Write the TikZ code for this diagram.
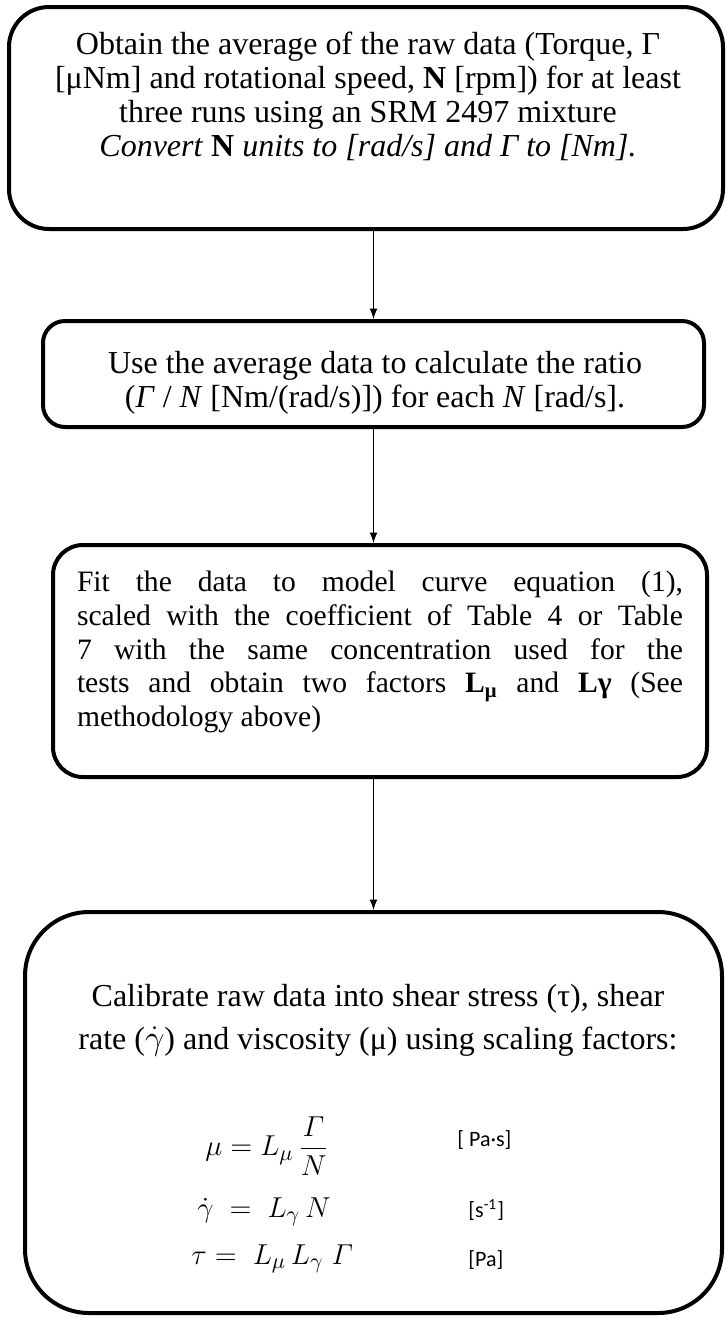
\documentclass[tikz,border=0pt]{standalone}
\usepackage{amsmath, amssymb}
\usepackage{fontspec}
\setmainfont{Liberation Serif}
\newfontfamily\unitfont{Carlito}
\usetikzlibrary{arrows, positioning, calc}

\begin{document}
\begin{tikzpicture}[x=0.5pt, y=-0.5pt]
\tikzstyle{stage} = [rectangle, draw=black, line width=2pt, fill=white, inner sep=0pt]
\tikzstyle{txt} = [align=center, inner sep=0pt, font=\fontsize{16}{17}\selectfont]
\tikzstyle{eqn} = [anchor=west, inner sep=0pt, font=\fontsize{15}{18}\selectfont]
\tikzstyle{unit} = [anchor=west, inner sep=0pt, font=\unitfont\fontsize{11}{13}\selectfont]
\tikzstyle{arrow} = [line width=0.8pt,->,>=latex]

\useasboundingbox (0,0) rectangle (727,1319);

% Boxes
\node (avg) [stage, rounded corners=20pt, minimum width=357pt, minimum height=111pt] at (366,118) {};
\node (ratio) [stage, rounded corners=11pt, minimum width=330.5pt, minimum height=53pt] at (373.5,374) {};
\node (fit) [stage, rounded corners=15pt, minimum width=327pt, minimum height=116pt] at (380,661) {};
\node (calib) [stage, rounded corners=32pt, minimum width=348.5pt, minimum height=200.5pt] at (373.5,1112.5) {};

% Texts
\node (avgtxt) [txt] at (368,96) {Obtain the average of the raw data (Torque, Γ\\
{}[μNm] and rotational speed, \textbf{N} [rpm]) for at least\\
three runs using an SRM 2497 mixture\\
\textit{Convert \textup{\textbf{N}} units to [rad/s] and Γ to [Nm].}};
\node (ratiotxt) [txt] at (375,383) {Use the average data to calculate the ratio\\
(\textit{Γ} / \textit{N} [Nm/(rad/s)]) for each \textit{N} [rad/s].};
\node (fittxt) [txt, align=justify, text width=303pt, font=\fontsize{14.8}{16.8}\selectfont] at (380,652) {Fit the data to model curve equation (1),\linebreak
scaled with the coefficient of Table 4 or Table\linebreak
7 with the same concentration used for the\linebreak
tests and obtain two factors \textbf{L\textsubscript{μ}} and \textbf{Lγ} (See\linebreak
methodology above)};
\node (calibtxt) [txt, font=\fontsize{16}{21.5}\selectfont] at (378,1020) {Calibrate raw data into shear stress (τ), shear\\
rate ($\dot{\gamma}$) and viscosity (μ) using scaling factors:};

% Equations and units
\node (eqmu) [eqn] at (205,1146) {$\mu = L_\mu\,\dfrac{\varGamma}{N}$};
\node (eqgam) [eqn] at (197,1212) {$\dot{\gamma}\;=\;L_\gamma\,N$};
\node (eqtau) [eqn] at (191,1259) {$\tau =\;L_\mu\,L_\gamma\;\varGamma$};
\node (unmu) [unit] at (457,1140) {[ Pa·s]};
\node (ungam) [unit] at (468,1210) {[s\textsuperscript{-1}]};
\node (untau) [unit] at (468,1260) {[Pa]};

% Connections
\draw [arrow] (ratio.north |- avg.south) -- (ratio.north);
\draw [arrow] (ratio.south) -- (ratio.south |- fit.north);
\draw [arrow] (ratio.south |- fit.south) -- (ratio.south |- calib.north);

\end{tikzpicture}
\end{document}
